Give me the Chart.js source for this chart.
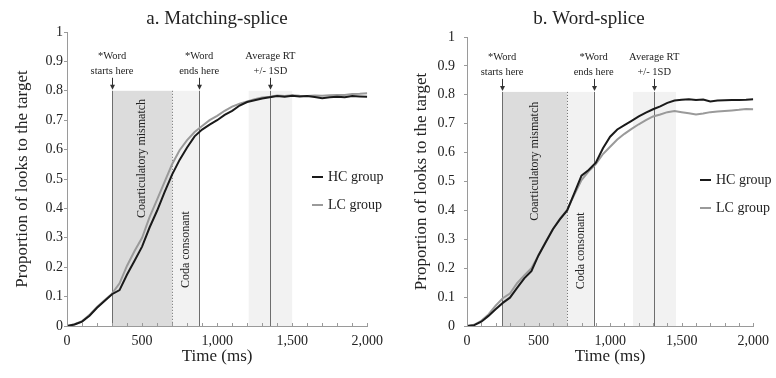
<!DOCTYPE html>
<html>
<head>
<meta charset="utf-8">
<script src="https://cdn.jsdelivr.net/npm/chart.js@4"></script>
<style>
  html, body { margin: 0; padding: 0; background: #fff; }
  .row { display: flex; width: 776px; height: 378px; }
  .panel { height: 378px; }
</style>
</head>
<body>
<div class="row">
  <div class="panel" style="width:390px"><canvas id="matchingChart" width="390" height="378"></canvas></div>
  <div class="panel" style="width:386px"><canvas id="wordChart" width="386" height="378"></canvas></div>
</div>
<script>
// time bins (ms)
const timeMs = [0, 50, 100, 150, 200, 250, 300, 350, 400, 450, 500, 550, 600, 650, 700, 750, 800, 850, 900, 950,
  1000, 1050, 1100, 1150, 1200, 1250, 1300, 1350, 1400, 1450, 1500, 1550, 1600, 1650, 1700, 1750, 1800, 1850, 1900, 1950, 2000];

// a. Matching-splice
const matchingHC = [0.000, 0.005, 0.015, 0.035, 0.062, 0.085, 0.108, 0.122, 0.175, 0.222, 0.270, 0.335, 0.392, 0.455, 0.515, 0.565, 0.607, 0.645, 0.668, 0.685,
  0.700, 0.718, 0.732, 0.750, 0.762, 0.768, 0.774, 0.778, 0.782, 0.780, 0.783, 0.781, 0.782, 0.779, 0.775, 0.778, 0.780, 0.778, 0.782, 0.781, 0.780];
const matchingLC = [0.000, 0.006, 0.016, 0.038, 0.065, 0.088, 0.110, 0.145, 0.205, 0.255, 0.300, 0.370, 0.430, 0.490, 0.550, 0.598, 0.632, 0.660, 0.680, 0.700,
  0.715, 0.732, 0.746, 0.756, 0.764, 0.771, 0.777, 0.780, 0.784, 0.782, 0.785, 0.783, 0.782, 0.784, 0.783, 0.785, 0.786, 0.786, 0.789, 0.790, 0.792];

// b. Word-splice
const wordHC = [0.000, 0.003, 0.015, 0.035, 0.058, 0.080, 0.098, 0.132, 0.165, 0.190, 0.245, 0.290, 0.335, 0.370, 0.400, 0.460, 0.520, 0.540, 0.565, 0.615,
  0.655, 0.680, 0.695, 0.710, 0.725, 0.738, 0.750, 0.760, 0.772, 0.780, 0.783, 0.785, 0.782, 0.784, 0.777, 0.780, 0.781, 0.782, 0.782, 0.783, 0.785];
const wordLC = [0.000, 0.004, 0.018, 0.040, 0.070, 0.096, 0.112, 0.148, 0.175, 0.200, 0.245, 0.292, 0.335, 0.372, 0.402, 0.455, 0.505, 0.535, 0.560, 0.595,
  0.620, 0.645, 0.665, 0.682, 0.698, 0.712, 0.725, 0.732, 0.740, 0.744, 0.740, 0.736, 0.732, 0.735, 0.740, 0.742, 0.744, 0.746, 0.748, 0.751, 0.750];

// word start, coarticulation end, word end (ms)
const matchingPhases = [300, 700, 880];
const wordPhases = [245, 700, 885];
// average RT -1SD, mean, +1SD (ms)
const matchingRT = [1210, 1355, 1500];
const wordRT = [1160, 1308, 1460];

const groupNames = ['HC group', 'LC group'];
const markerText = [['*Word', 'starts here'], ['*Word', 'ends here'], ['Average RT', '+/- 1SD']];
const phaseText = ['Coarticulatory mismatch', 'Coda consonant'];

const SERIF = '"Liberation Serif", "Times New Roman", serif';
const INK = '#222';

const decor = {
  id: 'decor',
  beforeDatasetsDraw(chart, args, o) {
    const { ctx, chartArea: a, scales: { x, y } } = chart;
    const px = v => x.getPixelForValue(v);
    const top = y.getPixelForValue(o.bandTop), h = a.bottom - top;
    const [p0, p1, p2] = o.phases;
    ctx.save();
    ctx.fillStyle = '#f2f2f2';
    ctx.fillRect(px(o.rt[0]), top, px(o.rt[2]) - px(o.rt[0]), h);
    ctx.fillRect(px(p1), top, px(p2) - px(p1), h);
    ctx.fillStyle = '#dcdcdc';
    ctx.fillRect(px(p0), top, px(p1) - px(p0), h);

    ctx.strokeStyle = '#6e6e6e';
    ctx.lineWidth = 1;
    [p0, p2, o.rt[1]].forEach(v => {
      const xx = Math.round(px(v)) + 0.5;
      ctx.beginPath(); ctx.moveTo(xx, top); ctx.lineTo(xx, a.bottom); ctx.stroke();
    });
    ctx.setLineDash([1, 2]);
    const xd = Math.round(px(p1)) + 0.5;
    ctx.beginPath(); ctx.moveTo(xd, top); ctx.lineTo(xd, a.bottom); ctx.stroke();
    ctx.setLineDash([]);

    // rotated phase labels
    ctx.fillStyle = INK;
    ctx.font = '12px ' + SERIF;
    ctx.textAlign = 'center';
    ctx.textBaseline = 'middle';
    [[(p0 + p1) / 2, 0.57, phaseText[0]], [(p1 + p2) / 2, 0.26, phaseText[1]]].forEach(([v, yv, t]) => {
      ctx.save();
      ctx.translate(px(v), y.getPixelForValue(yv));
      ctx.rotate(-Math.PI / 2);
      ctx.fillText(t, 0, 0);
      ctx.restore();
    });
    ctx.restore();
  },
  afterDraw(chart, args, o) {
    const { ctx, chartArea: a, scales: { x, y } } = chart;
    const px = v => x.getPixelForValue(v);
    const top = y.getPixelForValue(o.bandTop);
    ctx.save();

    // minor ticks on the time axis
    ctx.strokeStyle = '#9a9a9a';
    ctx.lineWidth = 1;
    for (let v = 0; v <= 2000; v += 100) {
      const xx = Math.round(px(v)) + 0.5;
      ctx.beginPath(); ctx.moveTo(xx, a.bottom); ctx.lineTo(xx, a.bottom - 3); ctx.stroke();
    }

    // event arrows and labels
    ctx.strokeStyle = '#333';
    ctx.fillStyle = '#333';
    ctx.font = '10.5px ' + SERIF;
    ctx.textAlign = 'center';
    ctx.textBaseline = 'middle';
    [o.phases[0], o.phases[2], o.rt[1]].forEach((v, i) => {
      const xx = Math.round(px(v)) + 0.5;
      ctx.beginPath(); ctx.moveTo(xx, top - 13); ctx.lineTo(xx, top - 5); ctx.stroke();
      ctx.beginPath();
      ctx.moveTo(xx - 2.5, top - 6); ctx.lineTo(xx + 2.5, top - 6); ctx.lineTo(xx, top - 1);
      ctx.closePath(); ctx.fill();
      ctx.fillStyle = INK;
      ctx.fillText(markerText[i][0], px(v), top - 35);
      ctx.fillText(markerText[i][1], px(v), top - 20);
      ctx.fillStyle = '#333';
    });

    // legend
    ctx.font = '14px ' + SERIF;
    ctx.textAlign = 'left';
    chart.data.datasets.forEach((ds, i) => {
      const ly = o.legendY[i];
      ctx.strokeStyle = ds.borderColor;
      ctx.lineWidth = 2;
      ctx.beginPath(); ctx.moveTo(o.legendX, ly); ctx.lineTo(o.legendX + 11, ly); ctx.stroke();
      ctx.fillStyle = INK;
      ctx.fillText(ds.label, o.legendX + 16, ly);
    });

    // panel title
    ctx.font = '19px ' + SERIF;
    ctx.textAlign = 'center';
    ctx.fillText(o.title, o.titleX, 19);

    // time axis title
    ctx.font = '17px ' + SERIF;
    ctx.fillText(o.xTitle, (a.left + a.right) / 2, 357);
    ctx.restore();
  }
};

function makePanel(id, hc, lc, panel) {
  new Chart(document.getElementById(id), {
    type: 'scatter',
    data: {
      datasets: [
        { label: groupNames[0], data: timeMs.map((t, i) => ({ x: t, y: hc[i] })), borderColor: '#1a1a1a' },
        { label: groupNames[1], data: timeMs.map((t, i) => ({ x: t, y: lc[i] })), borderColor: '#9a9a9a' }
      ]
    },
    plugins: [decor],
    options: {
      responsive: false,
      animation: false,
      locale: 'en-US',
      showLine: true,
      elements: { point: { radius: 0 }, line: { borderWidth: 2, tension: 0 } },
      layout: { padding: { left: 0, right: panel.padRight, top: panel.padTop, bottom: 0 } },
      plugins: {
        legend: { display: false },
        tooltip: { enabled: false },
        decor: panel
      },
      scales: {
        x: {
          type: 'linear', min: 0, max: 2000,
          afterFit: s => { s.height = 52; },
          border: { color: '#9a9a9a' },
          grid: { drawOnChartArea: false, drawTicks: false },
          ticks: { stepSize: 500, padding: 7, color: INK, font: { family: SERIF, size: 14 } }
        },
        y: {
          min: 0, max: 1,
          afterFit: s => { s.width = panel.axisWidth; },
          border: { color: '#9a9a9a' },
          grid: { drawOnChartArea: false, tickLength: 3, color: '#9a9a9a' },
          ticks: {
            stepSize: 0.1, padding: panel.tickPad, color: INK, font: { family: SERIF, size: 14 },
            callback: v => String(Math.round(v * 10) / 10)
          },
          title: { display: true, text: 'Proportion of looks to the target', color: INK, font: { family: SERIF, size: 17, weight: 'normal' }, padding: { top: panel.titlePad, bottom: 0 } }
        }
      }
    }
  });
}

makePanel('matchingChart', matchingHC, matchingLC, {
  title: 'a. Matching-splice', titleX: 217, xTitle: 'Time (ms)', phases: matchingPhases, rt: matchingRT, bandTop: 0.8,
  legendX: 312, legendY: [177, 205], padRight: 16, padTop: 32, axisWidth: 67, tickPad: 1, titlePad: 12
});
makePanel('wordChart', wordHC, wordLC, {
  title: 'b. Word-splice', titleX: 199, xTitle: 'Time (ms)', phases: wordPhases, rt: wordRT, bandTop: 0.81,
  legendX: 310, legendY: [180, 208], padRight: 18, padTop: 37, axisWidth: 77, tickPad: 9, titlePad: 21
});
</script>
</body>
</html>
